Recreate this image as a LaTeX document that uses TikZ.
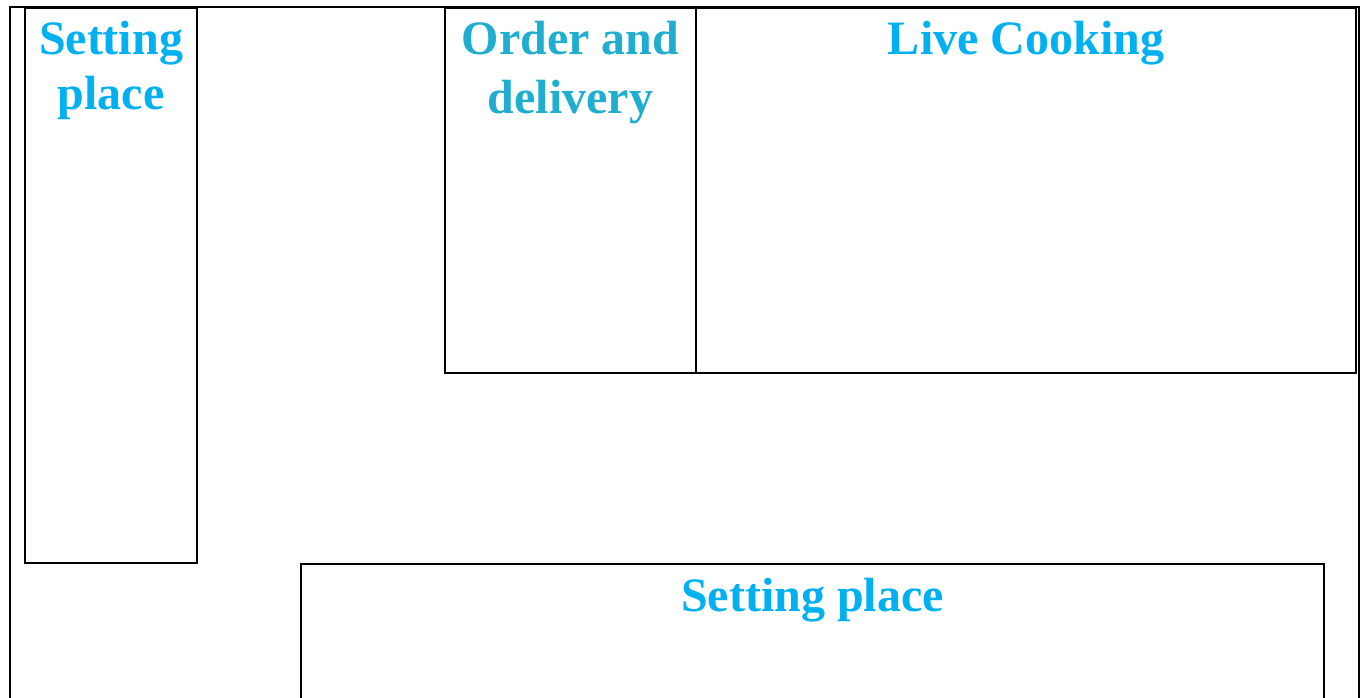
\documentclass[tikz,border=0pt]{standalone}
\usepackage{fontspec}
\setmainfont{Liberation Serif}
\usepackage{tikz}

\definecolor{zonecyan}{RGB}{0,176,240}
\definecolor{ordercyan}{RGB}{32,174,208}

\begin{document}
\begin{tikzpicture}[x=0.75pt, y=-0.75pt, line width=1.5pt,
    zonelabel/.style={anchor=north, inner sep=0pt, align=center,
        font=\fontsize{36}{41}\selectfont\bfseries}]
    \useasboundingbox (0,0) rectangle (1364,698);

    % hall walls (open at the bottom)
    \draw (10,699) -- (10,7) -- (1359,7) -- (1359,699);

    % left seating strip
    \draw (25,8) rectangle (197,563);
    \node[zonelabel, zonecyan] (leftseat) at (111,20.5) {Setting\\place};

    % counter: order desk and live kitchen
    \draw (445,8) rectangle (696,373);
    \node[zonelabel, ordercyan, font=\fontsize{36}{44}\selectfont\bfseries]
        (order) at (570.5,20.5) {Order and\\delivery};

    \draw (696,8) rectangle (1356,373);
    \node[zonelabel, zonecyan] (cooking) at (1026,20.5) {Live Cooking};

    % front seating area
    \draw (301,699) -- (301,564) -- (1324,564) -- (1324,699);
    \node[zonelabel, zonecyan] (frontseat) at (812.5,577) {Setting place};
\end{tikzpicture}
\end{document}
